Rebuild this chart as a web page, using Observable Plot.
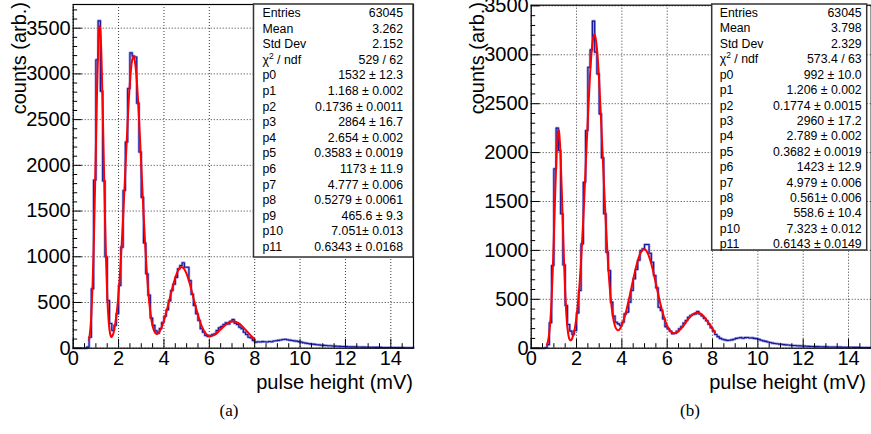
<!DOCTYPE html>
<html><head><meta charset="utf-8">
<script src="https://cdn.jsdelivr.net/npm/d3@7"></script>
<script src="https://cdn.jsdelivr.net/npm/@observablehq/plot@0.6"></script>
<style>
html,body{margin:0;padding:0;background:#fff;}
body{width:871px;height:434px;position:relative;overflow:hidden;font-family:"Liberation Sans",Arial,sans-serif;}
.panel{position:absolute;top:0;}
#overlay{position:absolute;left:0;top:0;pointer-events:none;}
</style></head>
<body>
<div id="pa" class="panel" style="left:0px"></div>
<div id="pb" class="panel" style="left:440px"></div>
<script>
// ---- histogram binning (150 bins, 0..15 mV)
const binStart = 0, binWidth = 0.1;

// ---- panel (a) histogram counts per bin
const histA = [0,0,0,0,0,0,12,120,650,1840,
 3155,3580,2810,1830,1000,522,270,195,250,376,
 686,1105,1725,2255,2840,3230,3195,3185,2680,2145,
 1650,1150,815,580,330,250,190,165,215,280,
 350,420,520,631,700,775,868,904,934,886,
 886,740,590,467,376,303,212,175,139,128,
 139,150,157,193,222,237,259,277,266,295,
 313,273,259,230,212,175,150,120,113,84,
 66,70,68,72,70,67,73,71,78,82,
 86,90,95,98,92,88,84,80,77,72,
 68,60,56,52,47,45,42,38,36,33,
 31,29,27,26,24,23,21,20,19,18,
 17,16,15,15,14,13,13,12,12,11,
 11,10,10,9,9,9,8,8,8,7,
 7,7,6,6,6,6,5,5,5,5];

// ---- panel (b) histogram counts per bin
const histB = [0,0,0,0,0,0,5,37,260,846,
 1834,2250,2021,1374,852,437,242,175,140,181,
 360,590,1067,1697,2226,2873,3050,3344,3027,2805,
 2396,1946,1374,982,795,471,330,266,249,232,
 266,351,369,471,590,710,805,900,998,1016,
 1060,1060,971,879,743,617,419,385,300,221,
 198,174,147,153,174,198,221,256,283,317,
 334,344,351,375,350,330,305,280,245,210,
 175,140,118,100,92,85,80,82,85,92,
 100,104,108,102,108,110,104,106,100,98,
 92,82,75,70,64,58,52,48,45,42,
 40,37,34,32,30,28,27,25,24,22,
 21,20,19,18,17,16,16,15,15,14,
 14,13,13,12,12,11,11,10,10,10,
 9,9,8,8,8,7,7,7,6,6];

// ---- fit curves
const fitAx = [0.70,0.75,0.80,0.85,0.90,0.95,1.00,1.05,1.10,1.15,1.20,1.25,1.30,1.35,1.40,1.45,1.50,1.55,1.60,1.65,1.70,1.75,1.80,
 1.9,2.0,2.1,2.2,2.3,2.4,2.5,2.6,2.7,2.8,2.9,3.0,3.1,3.2,3.3,3.4,3.5,3.6,3.7,3.8,3.9,4.0,4.1,4.2,4.3,4.4,4.5,4.6,4.7,4.8,4.9,
 5.0,5.1,5.2,5.3,5.4,5.5,5.6,5.7,5.8,5.9,6.0,6.1,6.2,6.3,6.4,6.5,6.6,6.7,6.8,6.9,7.0,7.1,7.2,7.3,7.4,7.5,7.6,7.7,7.8,7.9,8.0];
const fitAy = [93,194,372,657,1069,1600,2204,2795,3261,3502,3463,3152,2640,2037,1449,953,584,341,201,138,124,145,191,
 350,603,965,1429,1958,2480,2907,3153,3163,2936,2521,2003,1475,1008,646,395,243,172,156,179,231,303,390,488,589,687,772,838,878,886,863,
 812,738,647,549,452,362,284,222,177,148,134,133,142,159,181,205,229,252,271,285,292,292,285,271,252,228,201,173,146,120,96];

const fitBx = [0.70,0.75,0.80,0.85,0.90,0.95,1.00,1.05,1.10,1.15,1.20,1.25,1.30,1.35,1.40,1.45,1.50,1.55,1.60,1.65,1.70,1.75,1.80,
 1.9,2.0,2.1,2.2,2.3,2.4,2.5,2.6,2.7,2.8,2.9,3.0,3.1,3.2,3.3,3.4,3.5,3.6,3.7,3.8,3.9,4.0,4.1,4.2,4.3,4.4,4.5,4.6,4.7,4.8,4.9,
 5.0,5.1,5.2,5.3,5.4,5.5,5.6,5.7,5.8,5.9,6.0,6.1,6.2,6.3,6.4,6.5,6.6,6.7,6.8,6.9,7.0,7.1,7.2,7.3,7.4,7.5,7.6,7.7,7.8,7.9,8.0,8.1];
const fitBy = [38,82,163,298,504,788,1137,1516,1866,2123,2230,2163,1939,1606,1230,871,572,351,206,124,86,80,95,
 175,323,557,892,1328,1835,2357,2811,3115,3206,3065,2724,2249,1727,1235,828,528,332,225,185,193,235,303,388,488,594,703,806,894,962,1002,
 1011,989,937,861,767,661,555,454,364,288,229,188,163,154,158,174,198,226,257,289,318,341,356,363,360,348,328,301,268,233,198,163];

// ---- axis ticks
const xTicks = [0,2,4,6,8,10,12,14];
const xMinor = [0.5,1,1.5,2.5,3,3.5,4.5,5,5.5,6.5,7,7.5,8.5,9,9.5,10.5,11,11.5,12.5,13,13.5,14.5];
const yTicks = [0,500,1000,1500,2000,2500,3000,3500];
const yMinor = [100,200,300,400,600,700,800,900,1100,1200,1300,1400,1600,1700,1800,1900,2100,2200,2300,2400,2600,2700,2800,2900,3100,3200,3300,3400,3600,3700];

// ---- stats boxes
const statLabels = ["Entries","Mean","Std Dev","CHI","p0","p1","p2","p3","p4","p5","p6","p7","p8","p9","p10","p11"];
const statsA = ["63045","3.262","2.152","529 / 62","1532 ± 12.3","1.168 ± 0.002","0.1736 ± 0.0011","2864 ± 16.7","2.654 ± 0.002","0.3583 ± 0.0019","1173 ± 11.9","4.777 ± 0.006","0.5279 ± 0.0061","465.6 ± 9.3","7.051± 0.013","0.6343 ± 0.0168"];
const statsB = ["63045","3.798","2.329","573.4 / 63","992 ± 10.0","1.206 ± 0.002","0.1774 ± 0.0015","2960 ± 17.2","2.789 ± 0.002","0.3682 ± 0.0019","1423 ± 12.9","4.979 ± 0.006","0.561± 0.006","558.6 ± 10.4","7.323 ± 0.012","0.6143 ± 0.0149"];

const FONT = "'Liberation Sans', Arial, Helvetica, sans-serif";

function makePanel({hist, fitX, fitY, yMax, width, marginLeft, marginRight, marginTop}) {
  const H = 400, marginBottom = 52.3;
  const innerH = H - marginTop - marginBottom;
  const innerW = width - marginLeft - marginRight;
  const steps = hist.map((v, i) => ({x: binStart + i * binWidth, y: v}));
  steps.push({x: binStart + hist.length * binWidth, y: hist[hist.length - 1]});
  const fit = fitX.map((x, i) => ({x, y: fitY[i]}));
  return Plot.plot({
    width, height: H, marginLeft, marginRight, marginTop, marginBottom,
    style: {fontFamily: FONT, fontSize: "20px", color: "#000", background: "transparent", overflow: "visible"},
    x: {domain: [0, 15], label: null},
    y: {domain: [0, yMax], label: null},
    marks: [
      Plot.gridX(xTicks, {stroke: "#3a3a3a", strokeOpacity: 1, strokeDasharray: "1,2"}),
      Plot.gridY(yTicks, {stroke: "#3a3a3a", strokeOpacity: 1, strokeDasharray: "1,2"}),
      Plot.lineY(steps, {x: "x", y: "y", curve: "step-after", stroke: "#9a9ade", strokeWidth: 2.6}),
      Plot.lineY(steps, {x: "x", y: "y", curve: "step-after", stroke: "#16169c", strokeWidth: 1.1}),
      Plot.line(fit, {x: "x", y: "y", curve: "natural", stroke: "#ff0000", strokeWidth: 2}),
      Plot.tickX(xMinor, {x: d => d, insetTop: innerH - 4.5, stroke: "#000"}),
      Plot.tickX(xTicks, {x: d => d, insetTop: innerH - 9, stroke: "#000"}),
      Plot.tickY(yMinor, {y: d => d, insetRight: innerW - 4.5, stroke: "#000"}),
      Plot.tickY(yTicks, {y: d => d, insetRight: innerW - 9, stroke: "#000"}),
      Plot.frame({stroke: "#000", strokeWidth: 1.2}),
      Plot.axisX(xTicks, {tickSize: 0, tickPadding: 3, label: null, fontSize: 20, tickFormat: d => String(d)}),
      Plot.axisY(yTicks, {tickSize: 0, tickPadding: 2.5, label: null, fontSize: 20, tickFormat: d => String(d)})
    ]
  });
}

document.getElementById("pa").appendChild(makePanel({
  hist: histA, fitX: fitAx, fitY: fitAy, yMax: 3759,
  width: 440, marginLeft: 72.7, marginRight: 27, marginTop: 4
}));
document.getElementById("pb").appendChild(makePanel({
  hist: histB, fitX: fitBx, fitY: fitBy, yMax: 3507,
  width: 431, marginLeft: 90.7, marginRight: 0.3, marginTop: 4.7
}));

// ---- overlay: axis titles, stats boxes, captions
const svg = d3.select("body").append("svg").attr("id", "overlay")
  .attr("width", 871).attr("height", 434).style("font-family", FONT);

function yTitle(x) {
  svg.append("text").attr("transform", `translate(${x},2) rotate(-90)`)
    .attr("text-anchor", "end").attr("font-size", 20).attr("fill", "#000").text("counts (arb.)");
}
function xTitle(x) {
  svg.append("text").attr("x", x).attr("y", 389).attr("text-anchor", "end")
    .attr("font-size", 20).attr("fill", "#000").text("pulse height (mV)");
}
yTitle(26); yTitle(483.5);
xTitle(413); xTitle(866);

function statsBox({x0, x1, y0, y1, vals, base, step, padL, padR}) {
  const g = svg.append("g");
  g.append("rect").attr("x", x0).attr("y", y0).attr("width", x1 - x0).attr("height", y1 - y0)
    .attr("fill", "#fff").attr("stroke", "#333").attr("stroke-width", 1.5);
  statLabels.forEach((lab, i) => {
    const y = base + step * i;
    const t = g.append("text").attr("x", x0 + padL).attr("y", y).attr("font-size", 12.3).attr("fill", "#000");
    if (lab === "CHI") {
      t.append("tspan").text("χ");
      t.append("tspan").attr("font-size", 8.5).attr("dy", -5).text("2");
      t.append("tspan").attr("dy", 5).text(" / ndf");
    } else t.text(lab);
    g.append("text").attr("x", x1 - padR).attr("y", y).attr("text-anchor", "end")
      .attr("font-size", 12.3).attr("fill", "#000").text(vals[i]);
  });
}
statsBox({x0: 253.5, x1: 413, y0: 4, y1: 257, vals: statsA, base: 17, step: 15.6, padL: 9, padR: 10});
statsBox({x0: 711.7, x1: 866.7, y0: 4, y1: 250, vals: statsB, base: 17, step: 15.42, padL: 8, padR: 5});

svg.append("text").attr("x", 229).attr("y", 416).attr("text-anchor", "middle")
  .attr("font-family", "'Liberation Serif', 'DejaVu Serif', serif").attr("font-size", 17).text("(a)");
svg.append("text").attr("x", 690).attr("y", 416).attr("text-anchor", "middle")
  .attr("font-family", "'Liberation Serif', 'DejaVu Serif', serif").attr("font-size", 17).text("(b)");
</script>
</body></html>
